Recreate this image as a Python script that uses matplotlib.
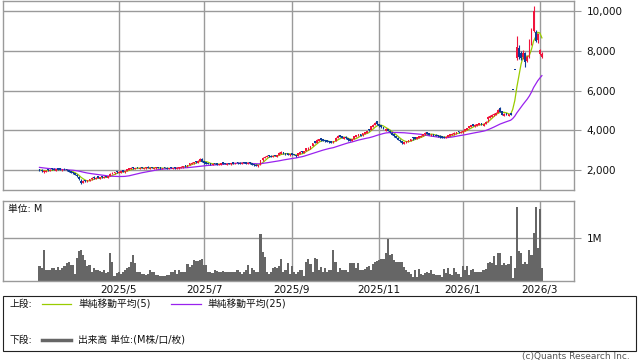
import numpy as np
import pandas as pd
import matplotlib
matplotlib.use('Agg')
import matplotlib.pyplot as plt
from matplotlib.patches import Rectangle
from matplotlib.lines import Line2D

plt.rcParams['font.family'] = ['DejaVu Sans', 'Noto Sans CJK JP']

# closes before the visible window (only used to warm up the moving averages)
pre_closes = [2320, 2300, 2280, 2290, 2260, 2250, 2240, 2230, 2210, 2250, 2200, 2150,
              2120, 2100, 2080, 2060, 2050, 2040, 2070, 2060, 2030, 2040, 2010, 2000]

opens = [
    2060, 2020, 1900, 1920, 2060, 1960, 2090, 2080, 1980, 2100,
    2090, 1970, 2080, 2060, 2000, 1960, 1910, 1850, 1780, 1680,
    1480, 1360, 1520, 1410, 1470, 1540, 1680, 1560, 1690, 1570,
    1710, 1600, 1720, 1630, 1720, 1800, 1840, 1960, 1860, 1880,
    2000, 1890, 1960, 2030, 2060, 2160, 2050, 2160, 2060, 2170,
    2060, 2090, 2190, 2080, 2170, 2060, 2090, 2170, 2150, 2050,
    2160, 2140, 2060, 2160, 2050, 2150, 2070, 2090, 2110, 2150,
    2270, 2190, 2260, 2310, 2350, 2480, 2390, 2460, 2590, 2450,
    2400, 2380, 2360, 2270, 2370, 2350, 2260, 2290, 2400, 2370,
    2270, 2380, 2300, 2400, 2310, 2410, 2390, 2320, 2420, 2400,
    2320, 2410, 2350, 2310, 2290, 2200, 2320, 2520, 2620, 2660,
    2770, 2740, 2670, 2780, 2690, 2770, 2830, 2930, 2870, 2850,
    2750, 2850, 2830, 2780, 2720, 2840, 2980, 2870, 2980, 3050,
    3100, 3220, 3450, 3390, 3480, 3600, 3560, 3530, 3500, 3470,
    3460, 3360, 3470, 3620, 3770, 3710, 3590, 3690, 3600, 3560,
    3460, 3560, 3680, 3710, 3830, 3750, 3830, 3870, 4080, 4020,
    4180, 4260, 4460, 4310, 4250, 4180, 3980, 4070, 3990, 3880,
    3800, 3710, 3630, 3540, 3470, 3320, 3380, 3420, 3490, 3680,
    3660, 3560, 3620, 3670, 3720, 3800, 3910, 3870, 3720, 3830,
    3790, 3770, 3740, 3710, 3690, 3610, 3680, 3730, 3760, 3800,
    3830, 3980, 3870, 3900, 3970, 4030, 4110, 4170, 4310, 4200,
    4220, 4270, 4380, 4240, 4340, 4560, 4640, 4700, 4760, 4800,
    4880, 5150, 4960, 4740, 4880, 4740, 4890, 6050, 7050, 7650,
    8150, 7900, 7700, 7900, 7500, 7700, 8400, 9000, 8950, 8550,
    7850, 7700]

highs = [
    2070, 2040, 1990, 2000, 2080, 2060, 2100, 2090, 2070, 2110,
    2100, 2060, 2090, 2070, 2020, 1970, 1920, 1870, 1790, 1720,
    1540, 1500, 1530, 1530, 1580, 1640, 1690, 1650, 1700, 1670,
    1720, 1690, 1730, 1720, 1840, 1900, 1920, 1970, 1940, 1960,
    2010, 1980, 2080, 2120, 2150, 2170, 2130, 2170, 2150, 2180,
    2140, 2170, 2200, 2160, 2180, 2140, 2170, 2180, 2160, 2130,
    2170, 2150, 2140, 2170, 2130, 2160, 2150, 2170, 2200, 2240,
    2280, 2280, 2370, 2400, 2440, 2490, 2500, 2620, 2600, 2460,
    2410, 2390, 2370, 2350, 2380, 2360, 2340, 2370, 2410, 2380,
    2350, 2390, 2380, 2410, 2390, 2420, 2400, 2400, 2430, 2410,
    2400, 2420, 2360, 2320, 2300, 2280, 2520, 2670, 2720, 2750,
    2780, 2750, 2760, 2790, 2780, 2900, 2950, 2940, 2880, 2860,
    2840, 2860, 2840, 2790, 2870, 2960, 2990, 2970, 3120, 3160,
    3230, 3380, 3460, 3550, 3590, 3610, 3570, 3540, 3510, 3480,
    3470, 3470, 3660, 3760, 3780, 3720, 3680, 3700, 3630, 3570,
    3570, 3720, 3780, 3830, 3840, 3880, 3920, 3970, 4090, 4230,
    4310, 4420, 4500, 4330, 4260, 4190, 4120, 4080, 4010, 3930,
    3820, 3730, 3660, 3550, 3480, 3420, 3480, 3520, 3580, 3690,
    3670, 3670, 3720, 3760, 3820, 3900, 3920, 3880, 3820, 3840,
    3800, 3780, 3750, 3720, 3700, 3700, 3780, 3820, 3850, 3900,
    3920, 3990, 3960, 4000, 4070, 4140, 4220, 4280, 4320, 4300,
    4320, 4380, 4390, 4350, 4470, 4720, 4780, 4830, 4880, 4940,
    5100, 5200, 4980, 4880, 4890, 4850, 4900, 6050, 7050, 8720,
    8300, 8000, 8050, 7950, 7800, 8600, 9150, 10250, 9050, 8900,
    8100, 7950]

lows = [
    1960, 1930, 1880, 1900, 1980, 1940, 2030, 2000, 1960, 2020,
    2000, 1950, 2000, 1970, 1910, 1860, 1820, 1740, 1670, 1530,
    1300, 1340, 1420, 1400, 1460, 1530, 1580, 1550, 1590, 1560,
    1620, 1590, 1650, 1620, 1700, 1790, 1830, 1870, 1850, 1870,
    1910, 1880, 1950, 2020, 2050, 2080, 2040, 2090, 2050, 2100,
    2050, 2080, 2120, 2070, 2100, 2050, 2080, 2090, 2080, 2040,
    2090, 2070, 2050, 2090, 2040, 2080, 2060, 2080, 2100, 2140,
    2190, 2180, 2250, 2300, 2340, 2390, 2380, 2450, 2420, 2340,
    2320, 2300, 2280, 2260, 2300, 2280, 2250, 2280, 2330, 2300,
    2260, 2310, 2290, 2330, 2300, 2340, 2320, 2310, 2350, 2330,
    2310, 2340, 2250, 2230, 2220, 2190, 2290, 2490, 2610, 2650,
    2680, 2660, 2650, 2700, 2680, 2750, 2820, 2830, 2790, 2760,
    2740, 2780, 2750, 2680, 2700, 2830, 2880, 2860, 2950, 3040,
    3090, 3200, 3360, 3370, 3470, 3480, 3460, 3430, 3400, 3380,
    3360, 3350, 3450, 3610, 3660, 3600, 3580, 3590, 3490, 3450,
    3450, 3550, 3670, 3700, 3730, 3720, 3820, 3860, 3950, 4000,
    4170, 4250, 4290, 4190, 4140, 4060, 3970, 3960, 3880, 3760,
    3680, 3600, 3500, 3430, 3300, 3310, 3370, 3410, 3480, 3540,
    3560, 3550, 3610, 3660, 3710, 3780, 3810, 3760, 3710, 3730,
    3700, 3680, 3640, 3620, 3600, 3600, 3660, 3720, 3750, 3790,
    3820, 3880, 3860, 3890, 3960, 4020, 4100, 4160, 4210, 4190,
    4210, 4260, 4280, 4230, 4330, 4450, 4630, 4690, 4750, 4790,
    4870, 4940, 4780, 4730, 4760, 4730, 4790, 6050, 7050, 7550,
    7600, 7550, 7600, 7200, 7450, 7650, 8300, 8950, 8450, 8400,
    7800, 7650]

closes = [
    1990, 1960, 1940, 1980, 2010, 2030, 2040, 2020, 2050, 2030,
    2020, 2040, 2010, 1990, 1930, 1880, 1840, 1760, 1690, 1550,
    1380, 1470, 1440, 1500, 1560, 1620, 1600, 1630, 1610, 1650,
    1640, 1670, 1660, 1700, 1820, 1880, 1900, 1890, 1920, 1940,
    1930, 1960, 2060, 2100, 2120, 2090, 2110, 2100, 2130, 2110,
    2120, 2150, 2130, 2140, 2110, 2120, 2150, 2100, 2090, 2110,
    2100, 2080, 2120, 2100, 2110, 2090, 2130, 2150, 2180, 2220,
    2200, 2260, 2350, 2380, 2420, 2400, 2480, 2550, 2430, 2360,
    2340, 2320, 2300, 2330, 2310, 2290, 2320, 2350, 2340, 2310,
    2330, 2320, 2360, 2340, 2370, 2350, 2330, 2380, 2360, 2340,
    2380, 2350, 2270, 2250, 2240, 2260, 2500, 2640, 2690, 2720,
    2700, 2680, 2740, 2710, 2760, 2870, 2900, 2840, 2800, 2780,
    2820, 2790, 2760, 2700, 2850, 2930, 2900, 2950, 3100, 3130,
    3200, 3360, 3380, 3520, 3560, 3500, 3480, 3450, 3420, 3400,
    3390, 3450, 3640, 3720, 3680, 3620, 3660, 3600, 3500, 3470,
    3550, 3700, 3760, 3800, 3740, 3860, 3900, 3950, 4000, 4200,
    4280, 4380, 4300, 4200, 4160, 4080, 4050, 3980, 3900, 3780,
    3700, 3620, 3520, 3450, 3380, 3400, 3460, 3500, 3560, 3600,
    3580, 3650, 3700, 3740, 3800, 3880, 3820, 3780, 3800, 3740,
    3720, 3700, 3660, 3640, 3620, 3680, 3760, 3800, 3830, 3880,
    3900, 3920, 3940, 3980, 4050, 4120, 4200, 4250, 4230, 4280,
    4300, 4350, 4300, 4330, 4450, 4700, 4750, 4800, 4850, 4900,
    5050, 4950, 4800, 4850, 4780, 4820, 4800, 6050, 7050, 8200,
    7700, 7650, 7900, 7450, 7700, 8200, 9100, 10000, 8500, 8850,
    8050, 7850]

# volume in millions
volumes = [
    0.35, 0.30, 0.72, 0.25, 0.24, 0.26, 0.29, 0.29, 0.25, 0.33,
    0.24, 0.29, 0.35, 0.41, 0.45, 0.37, 0.37, 0.16, 0.53, 0.69,
    0.72, 0.60, 0.49, 0.35, 0.37, 0.21, 0.29, 0.25, 0.24, 0.23,
    0.21, 0.24, 0.17, 0.21, 0.65, 0.43, 0.11, 0.17, 0.21, 0.16,
    0.21, 0.25, 0.29, 0.33, 0.45, 0.60, 0.41, 0.21, 0.19, 0.15,
    0.15, 0.14, 0.15, 0.25, 0.21, 0.21, 0.13, 0.12, 0.10, 0.11,
    0.11, 0.12, 0.13, 0.21, 0.21, 0.24, 0.16, 0.25, 0.19, 0.19,
    0.21, 0.40, 0.33, 0.37, 0.49, 0.47, 0.47, 0.49, 0.52, 0.37,
    0.37, 0.21, 0.19, 0.17, 0.25, 0.22, 0.19, 0.19, 0.23, 0.21,
    0.21, 0.21, 0.20, 0.21, 0.19, 0.24, 0.19, 0.16, 0.20, 0.25,
    0.37, 0.16, 0.29, 0.25, 0.21, 0.21, 1.10, 0.68, 0.55, 0.21,
    0.16, 0.21, 0.29, 0.31, 0.29, 0.35, 0.50, 0.21, 0.24, 0.41,
    0.16, 0.35, 0.19, 0.16, 0.21, 0.25, 0.24, 0.11, 0.43,
    0.50, 0.39, 0.21, 0.53, 0.50, 0.25, 0.33, 0.21, 0.29, 0.19,
    0.25, 0.25, 0.72, 0.45, 0.21, 0.29, 0.25, 0.25, 0.24, 0.21,
    0.41, 0.41, 0.41, 0.29, 0.41, 0.25, 0.24, 0.27, 0.33, 0.35,
    0.24, 0.39, 0.45, 0.46, 0.49, 0.50, 0.50, 0.65, 0.98, 0.61,
    0.63, 0.49, 0.43, 0.43, 0.43, 0.43, 0.33, 0.24, 0.21, 0.16,
    0.09, 0.25, 0.09, 0.27, 0.16, 0.13, 0.17, 0.21, 0.17, 0.24,
    0.16, 0.13, 0.13, 0.13, 0.09, 0.27, 0.17, 0.29, 0.16, 0.13,
    0.29, 0.19, 0.16, 0.09, 0.35, 0.25, 0.35, 0.13, 0.25, 0.27,
    0.19, 0.21, 0.21, 0.19, 0.25, 0.27, 0.41, 0.45, 0.41, 0.58,
    0.37, 0.66, 0.66, 0.37, 0.41, 0.37, 0.39, 0.58, 0.06, 0.29,
    1.73, 0.69, 0.65, 0.39, 0.45, 0.39, 0.72, 0.60, 1.12, 1.75,
    0.76, 1.70, 0.30]

holidays = ['2025-03-20', '2025-04-29', '2025-05-05', '2025-05-06', '2025-07-21',
            '2025-08-11', '2025-09-15', '2025-09-23', '2025-10-13', '2025-11-03',
            '2025-11-24', '2025-12-31', '2026-01-01', '2026-01-02', '2026-01-12',
            '2026-02-11', '2026-02-23']
months = [(2025, 5), (2025, 7), (2025, 9), (2025, 11), (2026, 1), (2026, 3)]
price_ticks = [2000, 4000, 6000, 8000, 10000]

# trading days
days = pd.bdate_range('2025-01-01', '2026-03-03')
days = days[~days.isin(pd.to_datetime(holidays))]
days = days[-len(closes):]
x = np.arange(len(closes))
month_pos = [int(np.argmax((days.year == y) & (days.month == m))) for y, m in months]
month_lbl = ['%d/%d' % (y, m) for y, m in months]

o = np.array(opens)
c = np.array(closes)
h = np.array(highs)
l = np.array(lows)
allc = pd.Series(pre_closes + closes)
ma5 = allc.rolling(5).mean().values[len(pre_closes):]
ma25 = allc.rolling(25).mean().values[len(pre_closes):]

RED = '#f0143c'
BLUE = '#0c3c96'
GRID = '#9a9a9a'
col = np.where(c > o, RED, BLUE)

W, H = 638, 362
fig = plt.figure(figsize=(6.38, 3.62), dpi=100)
ax1 = fig.add_axes([3/W, 1-190.3/H, 571/W, 189.8/H])
ax2 = fig.add_axes([3/W, 1-280.5/H, 571/W, 79.5/H])

# moving averages under the candles
ax1.plot(x, ma5, color='#99cc00', lw=0.9, zorder=2)
ax1.plot(x, ma25, color='#9922ee', lw=0.9, zorder=2)
ax1.vlines(x, l, h, colors=col, linewidth=0.8, zorder=3)
ax1.bar(x, np.maximum(np.abs(c-o), 45), bottom=np.minimum(o, c), width=0.85,
        color=col, linewidth=0, zorder=3)
ax1.set_ylim(995, 10527)

ax2.bar(x, volumes, width=1.0, color='#666666', linewidth=0, zorder=2)
ax2.set_ylim(0, 1.884)

for ax in (ax1, ax2):
    ax.set_xlim(-17.5, 256.4)
    ax.set_xticks(month_pos)
    ax.grid(True, color=GRID, lw=1, zorder=0)
    ax.set_axisbelow(True)
    for s in ax.spines.values():
        s.set_color(GRID)
        s.set_linewidth(1)
    ax.yaxis.tick_right()
    ax.tick_params(axis='y', length=5, color=GRID, labelsize=7.5, pad=4, labelcolor='#111111')
    ax.tick_params(axis='x', length=0)

ax1.set_yticks(price_ticks)
ax1.set_yticklabels(['{:,}'.format(v) for v in price_ticks])
ax1.set_xticklabels([])
ax2.set_yticks([1])
ax2.set_yticklabels(['1M'])
ax2.set_xticklabels(month_lbl, fontsize=7.5, color='#111111')
ax2.tick_params(axis='x', pad=3)

fig.text(8/W, 1-209/H, '単位: M', fontsize=7, va='center', color='#111111')

# legend box
fig.add_artist(Rectangle((3/W, 1-350.5/H), 633/W, 54.5/H, transform=fig.transFigure,
                         fill=False, ec='#222222', lw=0.8))
y1 = 1-304/H
y2 = 1-340/H
fig.text(10/W, y1, '上段:', fontsize=7, va='center', color='#111111')
fig.add_artist(Line2D([42/W, 71/W], [y1, y1], color='#99cc00', lw=0.9))
fig.text(78/W, y1, '単純移動平均(5)', fontsize=7, va='center', color='#111111')
fig.add_artist(Line2D([171/W, 201/W], [y1, y1], color='#9922ee', lw=0.9))
fig.text(207/W, y1, '単純移動平均(25)', fontsize=7, va='center', color='#111111')
fig.text(10/W, y2, '下段:', fontsize=7, va='center', color='#111111')
fig.add_artist(Line2D([42/W, 71/W], [y2, y2], color='#666666', lw=2.5))
fig.text(78/W, y2, '出来高 単位:(M株/口/枚)', fontsize=7, va='center', color='#111111')

fig.text(630/W, 1-357/H, '(c)Quants Research Inc.', fontsize=6.5, ha='right',
         va='center', color='#555555')

fig.savefig('out.png', dpi=100)
